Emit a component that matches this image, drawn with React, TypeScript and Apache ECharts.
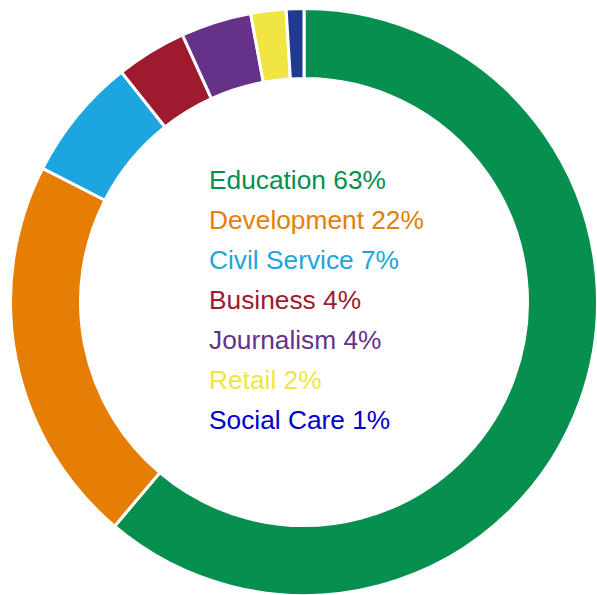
import React, { useEffect, useRef } from "react";
import * as echarts from "echarts";

const categories = ["Education", "Development", "Civil Service", "Business", "Journalism", "Retail", "Social Care"];
const values = [63, 22, 7, 4, 4, 2, 1];
const sliceColors = ["#078f4f", "#e67e05", "#1ca5de", "#9e1a2e", "#663189", "#f0e542", "#1f3a8e"];
const labelColors = ["#078f4f", "#e67e05", "#1ca5de", "#9e1a2e", "#663189", "#f0e542", "#0000cc"];

export default function App() {
  const ref = useRef<HTMLDivElement>(null);
  useEffect(() => {
    if (!ref.current) return;
    const chart = echarts.init(ref.current, undefined, { renderer: "svg" });
    const texts = categories.map((c, i) => ({
      type: "text",
      left: 209,
      top: 180 + i * 40 - 13,
      style: {
        text: `${c} ${values[i]}%`,
        fill: labelColors[i],
        font: "26.3px 'Liberation Sans', Arial, sans-serif",
      },
    }));
    chart.setOption({
      animation: false,
      graphic: texts,
      series: [
        {
          type: "pie",
          center: [304, 302],
          radius: [223.5, 293.5],
          startAngle: 90,
          clockwise: true,
          label: { show: false },
          labelLine: { show: false },
          silent: true,
          itemStyle: { borderColor: "#ffffff", borderWidth: 3 },
          data: categories.map((c, i) => ({
            name: c,
            value: values[i],
            itemStyle: { color: sliceColors[i] },
          })),
        },
      ],
    });
    return () => chart.dispose();
  }, []);
  return <div ref={ref} style={{ width: 597, height: 595, position: "absolute", left: 0, top: 0 }} />;
}
